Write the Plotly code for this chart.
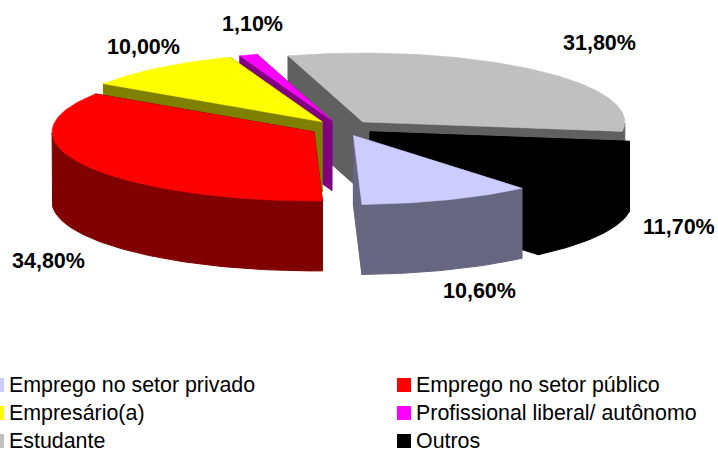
import math
import plotly.graph_objects as go

categories = ["Emprego no setor privado", "Emprego no setor público", "Empresário(a)",
              "Profissional liberal/ autônomo", "Estudante", "Outros"]
values = [10.6, 34.8, 10.0, 1.1, 31.8, 11.7]
top_colors = ["#CCCCFF", "#FF0000", "#FFFF00", "#FF00FF", "#C0C0C0", "#000000"]
side_colors = ["#666680", "#800000", "#808000", "#800080", "#606060", "#000000"]
draw_order = [4, 3, 2, 5, 1, 0]

# pie geometry in plot units
CX, CY = 342, 128
RX, RY = 262, 69
DEPTH = 70
EXPLODE_X, EXPLODE_Y = 32, 8
START = 50

label_pos = [(479, 291), (48, 261), (143, 47), (252, 24), (599, 43), (679, 227)]
legend_pos = [(-3, 385), (404, 385), (-3, 413), (404, 413), (-3, 441), (404, 441)]

fig = go.Figure()


def poly(xs, ys, color, width=1):
    fig.add_trace(go.Scatter(x=xs, y=ys, mode="lines", fill="toself", fillcolor=color,
                             line=dict(color=color, width=width), hoverinfo="skip", showlegend=False))


starts = []
t = START
for v in values:
    starts.append(t)
    t += v * 3.6

for i in draw_order:
    a0 = starts[i]
    a1 = a0 + values[i] * 3.6
    mid = math.radians((a0 + a1) / 2)
    ax = CX + EXPLODE_X * math.cos(mid)
    ay = CY + EXPLODE_Y * math.sin(mid)
    n = max(4, int(a1 - a0))
    ang = [math.radians(a0 + (a1 - a0) * k / n) for k in range(n + 1)]
    px = [ax + RX * math.cos(a) for a in ang]
    py = [ay + RY * math.sin(a) for a in ang]
    # cut faces
    poly([ax, px[0], px[0], ax, ax], [ay, py[0], py[0] + DEPTH, ay + DEPTH, ay], side_colors[i])
    poly([ax, px[-1], px[-1], ax, ax], [ay, py[-1], py[-1] + DEPTH, ay + DEPTH, ay], side_colors[i])
    # outer wall: only the part of the rim that faces the viewer
    fx = [x for x, a in zip(px, ang) if math.sin(a) >= 0]
    fy = [y for y, a in zip(py, ang) if math.sin(a) >= 0]
    if len(fx) > 1:
        poly(fx + fx[::-1] + [fx[0]], fy + [y + DEPTH for y in fy[::-1]] + [fy[0]], side_colors[i])
    # top face
    poly([ax] + px + [ax], [ay] + py + [ay], top_colors[i], 0.5)

annotations = []
for v, (x, y) in zip(values, label_pos):
    annotations.append(dict(x=x, y=y, xref="x", yref="y", showarrow=False,
                            text=f"<b>{v:.2f}%</b>".replace(".", ","),
                            font=dict(family="Liberation Sans", size=21.5, color="black")))

for name, col, (x, y) in zip(categories, top_colors, legend_pos):
    fig.add_trace(go.Scatter(x=[x], y=[y], mode="markers", hoverinfo="skip", showlegend=False,
                             marker=dict(symbol="square", size=14, color=col, line=dict(width=0))))
    annotations.append(dict(x=x + 10, y=y, xref="x", yref="y", showarrow=False, xanchor="left",
                            text=name, font=dict(family="Liberation Sans", size=21.4, color="black")))

fig.update_layout(
    width=718, height=450, margin=dict(l=0, r=0, t=0, b=0),
    paper_bgcolor="white", plot_bgcolor="white", showlegend=False,
    xaxis=dict(range=[0, 718], visible=False, fixedrange=True),
    yaxis=dict(range=[450, 0], visible=False, fixedrange=True),
    annotations=annotations,
)
fig.write_html("out.html", config=dict(displayModeBar=False),
               post_script="document.body.style.margin='0';document.body.style.overflow='hidden';")
